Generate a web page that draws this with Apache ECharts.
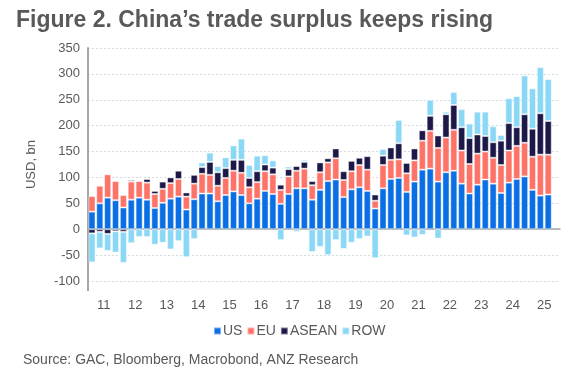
<!DOCTYPE html>
<html>
<head>
<meta charset="utf-8">
<script src="https://cdn.jsdelivr.net/npm/echarts@6/dist/echarts.min.js"></script>
<style>
  html, body { margin: 0; padding: 0; background: #ffffff; }
  #chart { width: 569px; height: 375px; }
</style>
</head>
<body>
<div id="chart"></div>
<script>
// years shown on the axis, quarterly bars 2011Q1 - 2025Q3 (Q4 2025 empty)
const years = ['11', '12', '13', '14', '15', '16', '17', '18', '19', '20', '21', '22', '23', '24', '25'];
const quarters = [];
years.forEach((y) => {
  for (let q = 1; q <= 4; q++) quarters.push(y + 'Q' + q);
});

// USD bn per quarter
const us = [34, 50, 61, 56, 42, 57, 61, 57, 41, 51, 59, 63, 38, 58, 69, 69, 54, 66, 73, 66,
  50, 59, 74, 68, 49, 68, 79, 79, 57, 76, 93, 96, 62, 77, 81, 74, 40, 79, 97, 99,
  72, 92, 115, 117, 92, 110, 113, 88, 69, 86, 96, 88, 70, 90, 97, 102, 76, 65, 67, '-'];
const eu = [30, 34, 45, 37, 24, 35, 32, 33, 27, 27, 30, 34, 25, 30, 38, 36, 30, 33, 40, 43,
  31, 32, 38, 38, 27, 34, 34, 38, 28, 34, 36, 41, 33, 35, 43, 41, 15, 45, 37, 36,
  36, 41, 56, 73, 65, 67, 79, 64, 57, 60, 54, 50, 54, 62, 64, 65, 64, 79, 77, '-'];
const asean = [-8, -5, -9, -4, -5, 3, 1, 7, 6, 14, 11, 16, 8, 17, 13, 25, 26, 19, 21, 25,
  18, 21, 13, 13, 10, 14, 9, 13, 8, 19, 8, 19, 17, 20, 14, 26, 12, 18, 24, 31,
  20, 23, 20, 29, 24, 45, 48, 45, 50, 37, 30, 30, 47, 53, 36, 55, 54, 80, 65, '-'];
const row = [-56, -32, -33, -41, -60, -27, -15, -15, -30, -26, -39, -23, -54, -19, 9, 18, 12, 21, 28, 41,
  25, 30, 18, 14, -21, 5, -5, 4, -44, -34, -50, -21, -38, -26, -19, -14, -56, 13, 0, 45,
  -12, -16, -11, 31, -18, 5, 25, 35, 28, 44, 47, 31, 11, 48, 60, 75, 78, 89, 81, '-'];

const colors = {
  US: '#0a6fe4',
  EU: '#fe7368',
  ASEAN: '#1c1848',
  ROW: '#8ad8f6',
};

const textColor = '#595959';
const font = 'Arial, "Liberation Sans", sans-serif';

const chart = echarts.init(document.getElementById('chart'));

const makeSeries = (name, data) => ({
  name: name,
  type: 'bar',
  stack: 'total',
  data: data,
  barCategoryGap: '10%',
  itemStyle: {
    color: colors[name],
    borderColor: 'rgba(255,255,255,0.45)',
    borderWidth: 1,
  },
});

const option = {
  backgroundColor: '#ffffff',
  animation: false,
  title: {
    text: 'Figure 2. China\u2019s trade surplus keeps rising',
    left: 11,
    top: 4,
    textStyle: {
      fontFamily: font,
      fontSize: 23,
      fontWeight: 'bold',
      color: textColor,
    },
  },
  legend: {
    bottom: 32,
    left: 208,
    icon: 'rect',
    itemWidth: 7,
    itemHeight: 7,
    itemGap: 4,
    textStyle: {
      fontFamily: font,
      fontSize: 14,
      color: textColor,
      padding: [0, 0, 0, -3],
    },
    data: ['US', 'EU', 'ASEAN', 'ROW'],
  },
  grid: {
    left: 88,
    right: 9,
    top: 48,
    bottom: 94,
  },
  xAxis: [
    {
      type: 'category',
      data: quarters,
      offset: 10,
      axisLine: { lineStyle: { color: '#a6a6a6', width: 1.5 } },
      axisTick: { interval: 3, length: 5, lineStyle: { color: '#8c8c8c' } },
      axisLabel: { show: false },
    },
    {
      type: 'category',
      data: years,
      position: 'bottom',
      offset: 10,
      axisLine: { show: false },
      axisTick: { show: false },
      axisLabel: {
        fontFamily: font,
        fontSize: 13,
        color: textColor,
        margin: 8,
      },
    },
  ],
  yAxis: {
    type: 'value',
    min: -100,
    max: 350,
    interval: 50,
    name: 'USD, bn',
    nameLocation: 'middle',
    nameGap: 50,
    nameTextStyle: {
      fontFamily: font,
      fontSize: 13,
      color: textColor,
    },
    axisLine: { show: true, lineStyle: { color: '#a6a6a6', width: 2 } },
    axisTick: { show: false },
    axisLabel: {
      fontFamily: font,
      fontSize: 13,
      color: textColor,
      margin: 8,
    },
    splitLine: {
      lineStyle: { color: '#d5dbe2', type: [2, 2], width: 1 },
    },
  },
  graphic: [
    {
      type: 'text',
      left: 23,
      top: 353,
      style: {
        text: 'Source: GAC, Bloomberg, Macrobond, ANZ Research',
        font: '14px Arial, "Liberation Sans", sans-serif',
        fill: textColor,
      },
    },
    {
      type: 'line',
      shape: { x1: 88, y1: 281, x2: 88, y2: 291 },
      style: { stroke: '#a6a6a6', lineWidth: 2 },
    },
  ],
  series: [
    makeSeries('US', us),
    makeSeries('EU', eu),
    makeSeries('ASEAN', asean),
    makeSeries('ROW', row),
  ],
};

chart.setOption(option);
</script>
</body>
</html>
